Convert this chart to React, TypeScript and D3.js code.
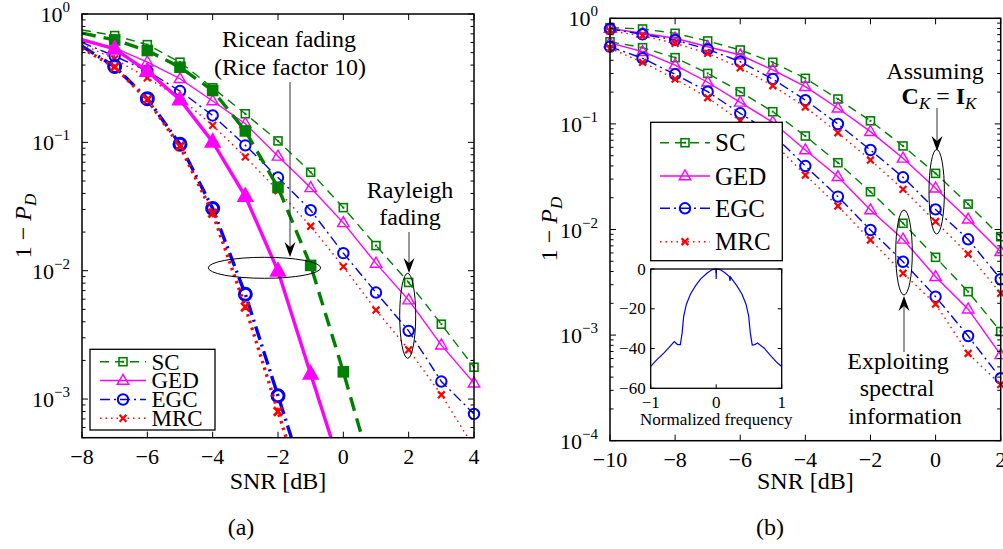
import React, { useEffect, useRef } from "react"
import * as d3 from "d3"

// ---- panel (a): SNR grid and 1 - P_D values ----
const snrA = [-8, -7, -6, -5, -4, -3, -2, -1, 0, 1, 2, 3, 4]

// Rayleigh fading (thin lines, open markers)
const rayleighSC = [0.75, 0.679, 0.577, 0.421, 0.266, 0.167, 0.1026, 0.0585, 0.031, 0.0157, 0.0081, 0.00383, 0.00177]
const rayleighGED = [0.63, 0.544, 0.421, 0.313, 0.21, 0.1397, 0.0778, 0.0442, 0.0236, 0.0114, 0.0059, 0.00263, 0.00133]
const rayleighEGC = [0.6, 0.47, 0.36, 0.251, 0.162, 0.0948, 0.0532, 0.0296, 0.0137, 0.00676, 0.0034, 0.00137, 0.000766]
const rayleighMRC = [0.58, 0.447, 0.318, 0.222, 0.1355, 0.077, 0.042, 0.0222, 0.01075, 0.00494, 0.00242, 0.00108, 0.00042]

// Ricean fading, Rice factor 10 (thick lines, filled markers)
const riceSC = [0.71, 0.628, 0.519, 0.385, 0.2535, 0.1227, 0.0445, 0.011, 0.00163, 0.00021]
const riceGED = [0.63, 0.534, 0.359, 0.215, 0.1007, 0.038, 0.00995, 0.00157, 0.00025]
const riceEGC = [0.56, 0.39, 0.219, 0.0966, 0.0305, 0.00656, 0.00106, 0.00017]
const riceMRC = [0.54, 0.386, 0.215, 0.0932, 0.028, 0.00522, 0.0008, 0.000124]

// ---- panel (b) ----
const snrB = [-10, -9, -8, -7, -6, -5, -4, -3, -2, -1, 0, 1, 2]

// assuming C_K = I_K
const identSC = [0.815, 0.792, 0.721, 0.61, 0.501, 0.383, 0.27, 0.172, 0.107, 0.0618, 0.034, 0.0174, 0.00855]
const identGED = [0.8, 0.721, 0.647, 0.538, 0.449, 0.324, 0.225, 0.1406, 0.0844, 0.0472, 0.0246, 0.0125, 0.00616]
const identEGC = [0.792, 0.706, 0.623, 0.509, 0.388, 0.266, 0.168, 0.0998, 0.0566, 0.0312, 0.0155, 0.00808, 0.00338]
const identMRC = [0.758, 0.684, 0.58, 0.466, 0.34, 0.23, 0.1445, 0.0825, 0.0455, 0.024, 0.0119, 0.00586, 0.00249]

// exploiting spectral information
const specSC = [0.6, 0.527, 0.424, 0.301, 0.2018, 0.1305, 0.0768, 0.0429, 0.0228, 0.01145, 0.00545, 0.00258, 0.00108]
const specGED = [0.584, 0.483, 0.361, 0.248, 0.16, 0.1035, 0.0566, 0.0316, 0.0153, 0.00808, 0.00357, 0.00176, 0.00065]
const specEGC = [0.538, 0.418, 0.295, 0.2018, 0.126, 0.0797, 0.0399, 0.0205, 0.00989, 0.00495, 0.00231, 0.00098, 0.00039]
const specMRC = [0.52, 0.383, 0.266, 0.177, 0.1066, 0.0674, 0.0328, 0.0167, 0.00796, 0.00385, 0.00197, 0.00067, 0.00034]

// inset: spectrum (dB) vs normalized frequency
const insetFreq = [-1, -0.905, -0.8, -0.726, -0.64, -0.59, -0.547, -0.52, -0.496, -0.455, -0.394, -0.317, -0.24, -0.138, -0.06, -0.02, -0.003, 0, 0.003, 0.02, 0.06, 0.138, 0.2, 0.21, 0.22, 0.24, 0.317, 0.394, 0.455, 0.496, 0.52, 0.55, 0.59, 0.63, 0.73, 0.83, 0.936, 1]
const insetDb = [-49, -45.6, -42.3, -39.7, -36.5, -38, -38, -32, -23.7, -17.7, -12.7, -8.5, -5.1, -2, -0.3, -0.05, 0, -5, 0, -0.05, -0.3, -2, -3.8, -6, -4.1, -5.1, -8.5, -12.7, -17.7, -23.7, -32, -38.2, -38, -37.2, -39.7, -43.6, -47.3, -49]

const legendNames = ["SC", "GED", "EGC", "MRC"]

const FONT = "Liberation Serif, DejaVu Serif, serif"

const STYLE: any = {
  SC: { color: "#008000", thin: "9,6", thick: "14,8", marker: "square" },
  GED: { color: "#ff00ff", thin: null, thick: null, marker: "triangle" },
  EGC: { color: "#0000ff", thin: "10,4,2,4", thick: "14,5,2,5", marker: "circle" },
  MRC: { color: "#ff0000", thin: "1.5,4", thick: "2.5,4.5", marker: "x" },
}

function drawMarker(g: any, type: string, cx: number, cy: number, color: string, big: boolean) {
  if (type === "square") {
    const s = big ? 10 : 8
    g.append("rect").attr("x", cx - s / 2).attr("y", cy - s / 2).attr("width", s).attr("height", s)
      .attr("fill", big ? color : "none").attr("stroke", color).attr("stroke-width", 1.6)
    if (!big) g.append("rect").attr("x", cx - 1).attr("y", cy - 1).attr("width", 2).attr("height", 2).attr("fill", color)
  } else if (type === "triangle") {
    const w = big ? 15 : 11.5, h = big ? 13.5 : 10
    g.append("path")
      .attr("d", `M${cx},${cy - h * 0.62}L${cx + w / 2},${cy + h * 0.38}L${cx - w / 2},${cy + h * 0.38}Z`)
      .attr("fill", big ? color : "none").attr("stroke", color).attr("stroke-width", 1.4)
  } else if (type === "circle") {
    g.append("circle").attr("cx", cx).attr("cy", cy).attr("r", big ? 6 : 5.2)
      .attr("fill", "none").attr("stroke", color).attr("stroke-width", big ? 3 : 2)
  } else {
    const s = big ? 4.2 : 3.4
    g.append("path").attr("d", `M${cx - s},${cy - s}L${cx + s},${cy + s}M${cx - s},${cy + s}L${cx + s},${cy - s}`)
      .attr("stroke", color).attr("stroke-width", big ? 2.8 : 2.2).attr("fill", "none")
  }
}

function arrowHead(g: any, x: number, tip: number, dir: number) {
  // dir = 1 pointing down, -1 pointing up
  g.append("path")
    .attr("d", `M${x},${tip}L${x - 5.5},${tip - dir * 15}L${x},${tip - dir * 10}L${x + 5.5},${tip - dir * 15}Z`)
    .attr("fill", "#000")
}

function drawPanel(svg: any, cfg: any) {
  const { id, left, right, top, bottom, xDomain, yDomain, xTicks, yExps } = cfg
  const x = d3.scaleLinear().domain(xDomain).range([left, right])
  const y = d3.scaleLog().domain(yDomain).range([bottom, top])

  svg.append("defs").append("clipPath").attr("id", id)
    .append("rect").attr("x", left).attr("y", top).attr("width", right - left).attr("height", bottom - top)

  const g = svg.append("g")
  const line = d3.line<number[]>().x(d => x(d[0])).y(d => y(d[1]))

  cfg.series.forEach((s: any) => {
    const st = STYLE[s.name]
    const pts = s.values.map((v: number, i: number) => [cfg.snr[i], v])
    g.append("path").datum(pts).attr("clip-path", `url(#${id})`)
      .attr("d", line).attr("fill", "none").attr("stroke", st.color)
      .attr("stroke-width", s.thick ? 3.4 : 1.4)
      .attr("stroke-dasharray", s.thick ? st.thick : st.thin)
    pts.filter((d: number[]) => d[0] >= s.markFrom && d[1] >= yDomain[0])
      .forEach((d: number[]) => drawMarker(g, st.marker, x(d[0]), y(d[1]), st.color, s.thick))
  })

  // box
  svg.append("rect").attr("x", left).attr("y", top).attr("width", right - left).attr("height", bottom - top)
    .attr("fill", "none").attr("stroke", "#000").attr("stroke-width", 1.5)

  const ax = svg.append("g").attr("stroke", "#000").attr("stroke-width", 1)
  xTicks.forEach((t: number) => {
    ax.append("line").attr("x1", x(t)).attr("x2", x(t)).attr("y1", bottom).attr("y2", bottom - 6)
    ax.append("line").attr("x1", x(t)).attr("x2", x(t)).attr("y1", top).attr("y2", top + 6)
    svg.append("text").attr("x", x(t)).attr("y", bottom + 26).attr("text-anchor", "middle")
      .style("font-family", FONT).attr("font-size", 22).text(t < 0 ? `\u2212${-t}` : `${t}`)
  })
  const lo = Math.floor(Math.log10(yDomain[0]))
  for (let e = lo; e < 0; e++) {
    for (let m = 2; m <= 9; m++) {
      const v = m * Math.pow(10, e)
      if (v < yDomain[0] || v > yDomain[1]) continue
      ax.append("line").attr("x1", left).attr("x2", left + 3.5).attr("y1", y(v)).attr("y2", y(v))
      ax.append("line").attr("x1", right).attr("x2", right - 3.5).attr("y1", y(v)).attr("y2", y(v))
    }
  }
  yExps.forEach((e: number) => {
    const v = Math.pow(10, e)
    ax.append("line").attr("x1", left).attr("x2", left + 6).attr("y1", y(v)).attr("y2", y(v))
    ax.append("line").attr("x1", right).attr("x2", right - 6).attr("y1", y(v)).attr("y2", y(v))
    const t = svg.append("text").attr("x", left - 12).attr("y", y(v) + 8).attr("text-anchor", "end")
      .style("font-family", FONT).attr("font-size", 22)
    t.append("tspan").text("10")
    t.append("tspan").attr("dy", -10).attr("font-size", 15).text(e === 0 ? "0" : `\u2212${-e}`)
  })

  // axis labels
  svg.append("text").attr("x", (left + right) / 2).attr("y", 489).attr("text-anchor", "middle")
    .style("font-family", FONT).attr("font-size", 24).text("SNR [dB]")
  const yl = svg.append("text").attr("transform", `translate(${cfg.ylabelX},${cfg.ylabelY}) rotate(-90)`)
    .attr("text-anchor", "middle").style("font-family", FONT).attr("font-size", 24)
  yl.append("tspan").text("1 \u2212 ")
  yl.append("tspan").attr("font-style", "italic").text("P")
  yl.append("tspan").attr("font-style", "italic").attr("font-size", 17).attr("dy", 5).text("D")
  svg.append("text").attr("x", cfg.capX).attr("y", 535).attr("text-anchor", "middle")
    .style("font-family", FONT).attr("font-size", 24).text(cfg.caption)

  return { x, y }
}

function drawLegend(svg: any, bx: number, by: number, bw: number, bh: number, rows: number[], x0: number, x1: number, tx: number, fs: number) {
  svg.append("rect").attr("x", bx).attr("y", by).attr("width", bw).attr("height", bh)
    .attr("fill", "#fff").attr("stroke", "#000").attr("stroke-width", 1.3)
  legendNames.forEach((name, i) => {
    const st = STYLE[name]
    const ry = rows[i]
    svg.append("line").attr("x1", x0).attr("x2", x1).attr("y1", ry).attr("y2", ry)
      .attr("stroke", st.color).attr("stroke-width", 1.4).attr("stroke-dasharray", st.thin)
    drawMarker(svg, st.marker, (x0 + x1) / 2, ry, st.color, false)
    svg.append("text").attr("x", tx).attr("y", ry + fs * 0.34).style("font-family", FONT)
      .attr("font-size", fs).text(name)
  })
}

function drawText(svg: any, x: number, y: number, s: string, size = 24) {
  svg.append("text").attr("x", x).attr("y", y).attr("text-anchor", "middle")
    .style("font-family", FONT).attr("font-size", size).text(s)
}

export default function App() {
  const ref = useRef<SVGSVGElement>(null)

  useEffect(() => {
    const svg = d3.select(ref.current)
    svg.selectAll("*").remove()

    // ---- (a) ----
    drawPanel(svg, {
      id: "clipA", left: 82, right: 474, top: 14, bottom: 437.7,
      xDomain: [-8, 4], yDomain: [5e-4, 1], xTicks: [-8, -6, -4, -2, 0, 2, 4], yExps: [0, -1, -2, -3],
      snr: snrA, ylabelX: 31, ylabelY: 226, capX: 241, caption: "(a)",
      series: [
        { name: "SC", values: rayleighSC, thick: false, markFrom: -7 },
        { name: "GED", values: rayleighGED, thick: false, markFrom: -7 },
        { name: "EGC", values: rayleighEGC, thick: false, markFrom: -7 },
        { name: "MRC", values: rayleighMRC, thick: false, markFrom: -7 },
        { name: "SC", values: riceSC, thick: true, markFrom: -7 },
        { name: "GED", values: riceGED, thick: true, markFrom: -7 },
        { name: "EGC", values: riceEGC, thick: true, markFrom: -7 },
        { name: "MRC", values: riceMRC, thick: true, markFrom: -7 },
      ],
    })
    drawLegend(svg, 90, 349.3, 125, 80.7, [361.7, 380.5, 399.5, 418.3], 100, 146, 151.5, 23)

    const an = svg.append("g")
    drawText(an, 289, 47, "Ricean fading")
    drawText(an, 290, 75, "(Rice factor 10)")
    an.append("line").attr("x1", 290).attr("x2", 290).attr("y1", 82).attr("y2", 248).attr("stroke", "#333").attr("stroke-width", 1)
    arrowHead(an, 290, 257, 1)
    an.append("ellipse").attr("cx", 264.5).attr("cy", 267.8).attr("rx", 56.2).attr("ry", 10.5)
      .attr("fill", "none").attr("stroke", "#000").attr("stroke-width", 1)
    drawText(an, 410, 198, "Rayleigh")
    drawText(an, 410, 225, "fading")
    an.append("line").attr("x1", 409).attr("x2", 409).attr("y1", 232).attr("y2", 264).attr("stroke", "#333").attr("stroke-width", 1)
    arrowHead(an, 409, 273, 1)
    an.append("ellipse").attr("cx", 407.7).attr("cy", 315.8).attr("rx", 8).attr("ry", 42.5)
      .attr("fill", "none").attr("stroke", "#000").attr("stroke-width", 1)

    // ---- (b) ----
    drawPanel(svg, {
      id: "clipB", left: 610, right: 1000.7, top: 18.3, bottom: 440.7,
      xDomain: [-10, 2], yDomain: [1e-4, 1], xTicks: [-10, -8, -6, -4, -2, 0, 2], yExps: [0, -1, -2, -3, -4],
      snr: snrB, ylabelX: 557, ylabelY: 229, capX: 770, caption: "(b)",
      series: [
        { name: "SC", values: identSC, thick: false, markFrom: -10 },
        { name: "GED", values: identGED, thick: false, markFrom: -10 },
        { name: "EGC", values: identEGC, thick: false, markFrom: -10 },
        { name: "MRC", values: identMRC, thick: false, markFrom: -10 },
        { name: "SC", values: specSC, thick: false, markFrom: -10 },
        { name: "GED", values: specGED, thick: false, markFrom: -10 },
        { name: "EGC", values: specEGC, thick: false, markFrom: -10 },
        { name: "MRC", values: specMRC, thick: false, markFrom: -10 },
      ],
    })
    drawLegend(svg, 650.7, 122.3, 131.6, 138.4, [142.7, 176, 208.3, 241.7], 660, 710, 715, 25)

    // inset spectrum
    const il = 650.7, ir = 781.7, it = 269, ib = 388.3
    const fx = d3.scaleLinear().domain([-1, 1]).range([il, ir])
    const fy = d3.scaleLinear().domain([-60, 0]).range([ib, it])
    const ins = svg.append("g")
    ins.append("rect").attr("x", il).attr("y", it).attr("width", ir - il).attr("height", ib - it).attr("fill", "#fff")
    ins.append("path").datum(insetFreq.map((f, i) => [f, insetDb[i]]))
      .attr("d", d3.line<number[]>().x(d => fx(d[0])).y(d => fy(d[1])))
      .attr("fill", "none").attr("stroke", "#0000ff").attr("stroke-width", 1.2)
    ins.append("rect").attr("x", il).attr("y", it).attr("width", ir - il).attr("height", ib - it)
      .attr("fill", "none").attr("stroke", "#000").attr("stroke-width", 1.3)
    ;[0, -20, -40, -60].forEach(v => {
      ins.append("line").attr("x1", il).attr("x2", il + 4).attr("y1", fy(v)).attr("y2", fy(v)).attr("stroke", "#000")
      ins.append("line").attr("x1", ir).attr("x2", ir - 4).attr("y1", fy(v)).attr("y2", fy(v)).attr("stroke", "#000")
      ins.append("text").attr("x", il - 5).attr("y", fy(v) + 5.5).attr("text-anchor", "end")
        .style("font-family", FONT).attr("font-size", 17).text(v < 0 ? `\u2212${-v}` : `${v}`)
    })
    ;[-1, 0, 1].forEach(v => {
      ins.append("line").attr("x1", fx(v)).attr("x2", fx(v)).attr("y1", ib).attr("y2", ib - 4).attr("stroke", "#000")
      ins.append("line").attr("x1", fx(v)).attr("x2", fx(v)).attr("y1", it).attr("y2", it + 4).attr("stroke", "#000")
      ins.append("text").attr("x", fx(v)).attr("y", 408).attr("text-anchor", "middle")
        .style("font-family", FONT).attr("font-size", 17).text(v < 0 ? `\u2212${-v}` : `${v}`)
    })
    drawText(ins, (il + ir) / 2, 425, "Normalized frequency", 17)

    // annotations (b)
    const bn = svg.append("g")
    drawText(bn, 935, 79, "Assuming")
    const ck = bn.append("text").attr("x", 939).attr("y", 104).attr("text-anchor", "middle")
      .style("font-family", FONT).attr("font-size", 24)
    ck.append("tspan").attr("font-weight", "bold").text("C")
    ck.append("tspan").attr("font-style", "italic").attr("font-size", 17).attr("dy", 5).text("K")
    ck.append("tspan").attr("dy", -5).text(" = ")
    ck.append("tspan").attr("font-weight", "bold").text("I")
    ck.append("tspan").attr("font-style", "italic").attr("font-size", 17).attr("dy", 5).text("K")
    bn.append("line").attr("x1", 937).attr("x2", 937).attr("y1", 108).attr("y2", 142).attr("stroke", "#333").attr("stroke-width", 1)
    arrowHead(bn, 937, 151, 1)
    bn.append("ellipse").attr("cx", 936.7).attr("cy", 191.7).attr("rx", 7.7).attr("ry", 42.3)
      .attr("fill", "none").attr("stroke", "#000").attr("stroke-width", 1)
    bn.append("ellipse").attr("cx", 904).attr("cy", 252.5).attr("rx", 8.3).attr("ry", 42.5)
      .attr("fill", "none").attr("stroke", "#000").attr("stroke-width", 1)
    arrowHead(bn, 904, 296, -1)
    bn.append("line").attr("x1", 904).attr("x2", 904).attr("y1", 304).attr("y2", 352).attr("stroke", "#333").attr("stroke-width", 1)
    drawText(bn, 898, 369, "Exploiting")
    drawText(bn, 897, 396, "spectral")
    drawText(bn, 905, 424, "information")
  }, [])

  return (
    <svg ref={ref} width={1003} height={549}
      style={{ position: "absolute", left: 0, top: 0, background: "#fff" }} />
  )
}
